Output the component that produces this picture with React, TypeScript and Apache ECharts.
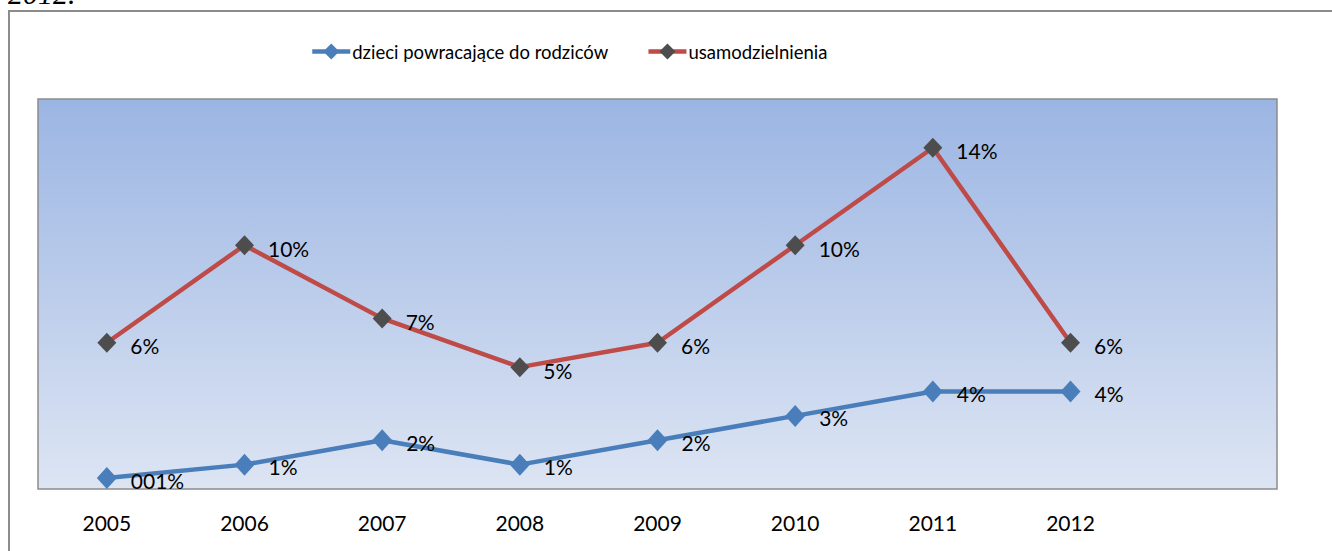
import React, { useEffect, useRef } from "react";
import * as echarts from "echarts";

const categories = ["2005", "2006", "2007", "2008", "2009", "2010", "2011", "2012", ""];
const seriesNames = ["dzieci powracające do rodziców", "usamodzielnienia"];
const returnedValues = [0.45, 1, 2, 1, 2, 3, 4, 4];
const returnedLabels = ["001%", "1%", "2%", "1%", "2%", "3%", "4%", "4%"];
const independentValues = [6, 10, 7, 5, 6, 10, 14, 6];
const independentLabels = ["6%", "10%", "7%", "5%", "6%", "10%", "14%", "6%"];
const captionText = "2012.";

const FONT = "Lato, 'Noto Sans', sans-serif";

export default function App() {
  const ref = useRef<HTMLDivElement>(null);
  useEffect(() => {
    if (!ref.current) return;
    const chart = echarts.init(ref.current, undefined, { renderer: "svg" });
    chart.setOption({
      animation: false,
      textStyle: { fontFamily: FONT },
      graphic: [
        {
          type: "rect",
          shape: { x: 9, y: 11, width: 1400, height: 700 },
          style: { fill: "none", stroke: "#8c8c8c", lineWidth: 2 },
          z: 0,
        },
        {
          type: "text",
          left: 8,
          top: -22,
          style: {
            text: captionText,
            font: "italic 30px 'Liberation Serif', 'DejaVu Serif', serif",
            fill: "#000",
          },
        },
      ],
      legend: {
        left: 305,
        top: 37,
        itemWidth: 38,
        itemHeight: 20,
        itemGap: 38,
        lineStyle: { width: 4.5 },
        textStyle: { fontSize: 18.5, color: "#000", fontFamily: FONT, padding: [0, 0, 0, -3] },
        data: seriesNames,
      },
      grid: {
        left: 38,
        top: 99,
        width: 1239,
        height: 390,
        show: true,
        borderColor: "#8c8c8c",
        borderWidth: 1.5,
        backgroundColor: new echarts.graphic.LinearGradient(0, 0, 0, 1, [
          { offset: 0, color: "#9bb5e3" },
          { offset: 1, color: "#dde5f3" },
        ]),
      },
      xAxis: {
        type: "category",
        data: categories,
        boundaryGap: true,
        axisLine: { show: false },
        axisTick: { show: false },
        axisLabel: { fontSize: 21, color: "#000", margin: 23, fontFamily: FONT },
      },
      yAxis: {
        type: "value",
        min: 0,
        max: 16,
        show: false,
        splitLine: { show: false },
      },
      series: [
        {
          name: seriesNames[0],
          type: "line",
          data: returnedValues,
          symbol: "diamond",
          symbolSize: [20, 22],
          lineStyle: { color: "#4a7ebb", width: 4.5 },
          itemStyle: { color: "#4a7ebb" },
          label: {
            show: true,
            position: "right",
            distance: 14,
            offset: [0, 2],
            fontSize: 21,
            color: "#000",
            fontFamily: FONT,
            formatter: (p: any) => returnedLabels[p.dataIndex],
          },
          z: 3,
        },
        {
          name: seriesNames[1],
          type: "line",
          data: independentValues,
          symbol: "diamond",
          symbolSize: [19, 20],
          lineStyle: { color: "#be4b48", width: 4.5 },
          itemStyle: { color: "#4d4d4d" },
          label: {
            show: true,
            position: "right",
            distance: 14,
            offset: [0, 3],
            fontSize: 21,
            color: "#000",
            fontFamily: FONT,
            formatter: (p: any) => independentLabels[p.dataIndex],
          },
          z: 3,
        },
      ],
    });
    return () => chart.dispose();
  }, []);
  return (
    <div
      ref={ref}
      style={{ position: "fixed", left: 0, top: 0, width: 1332, height: 551, background: "#fff" }}
    />
  );
}
